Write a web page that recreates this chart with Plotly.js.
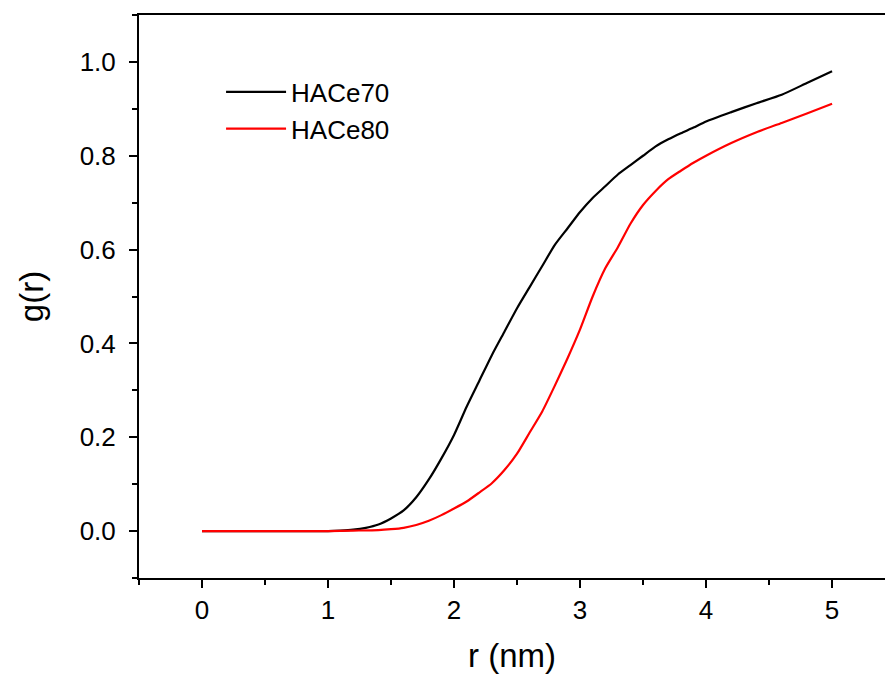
<!DOCTYPE html>
<html>
<head>
<meta charset="utf-8">
<script src="https://cdn.plot.ly/plotly-3.0.1.min.js"></script>
<style>html,body{margin:0;padding:0;background:#fff;}#chart{width:885px;height:675px;}</style>
</head>
<body>
<div id="chart"></div>
<script>
const r70 = [0, 0.5, 1.0, 1.1, 1.2, 1.3, 1.4, 1.5, 1.6, 1.7, 1.8, 1.9, 2.0, 2.1, 2.2, 2.3, 2.4, 2.5, 2.6, 2.7, 2.8, 2.9, 3.0, 3.1, 3.2, 3.3, 3.4, 3.5, 3.6, 3.7, 3.8, 3.9, 4.0, 4.2, 4.4, 4.6, 4.8, 5.0];
const g70 = [0, 0, 0, 0.001, 0.003, 0.007, 0.014, 0.027, 0.044, 0.072, 0.11, 0.155, 0.205, 0.265, 0.32, 0.375, 0.425, 0.475, 0.52, 0.565, 0.61, 0.645, 0.68, 0.71, 0.735, 0.76, 0.78, 0.80, 0.82, 0.835, 0.848, 0.86, 0.873, 0.893, 0.912, 0.93, 0.955, 0.98];
const r80 = [0, 0.5, 1.0, 1.2, 1.4, 1.5, 1.6, 1.7, 1.8, 1.9, 2.0, 2.1, 2.2, 2.3, 2.4, 2.5, 2.6, 2.7, 2.8, 2.9, 3.0, 3.1, 3.2, 3.3, 3.4, 3.5, 3.6, 3.7, 3.8, 3.9, 4.0, 4.2, 4.4, 4.6, 4.8, 5.0];
const g80 = [0, 0, 0, 0.001, 0.002, 0.004, 0.007, 0.013, 0.022, 0.034, 0.048, 0.063, 0.082, 0.102, 0.13, 0.165, 0.21, 0.255, 0.31, 0.368, 0.43, 0.5, 0.56, 0.605, 0.655, 0.695, 0.725, 0.75, 0.768, 0.785, 0.80, 0.827, 0.85, 0.87, 0.89, 0.911];
const names = ["HACe70", "HACe80"];
const colors = ["#000000", "#ff0000"];

const font = "Liberation Sans, Arial, sans-serif";
const traces = [
  {x: r70, y: g70, name: names[0], type: "scatter", mode: "lines", line: {color: colors[0], width: 2.2, shape: "spline", smoothing: 0.6}},
  {x: r80, y: g80, name: names[1], type: "scatter", mode: "lines", line: {color: colors[1], width: 2.2, shape: "spline", smoothing: 0.6}}
];
const layout = {
  width: 885, height: 675,
  margin: {l: 139, r: 0, t: 15, b: 97},
  paper_bgcolor: "#fff", plot_bgcolor: "#fff",
  font: {family: font, color: "#000", size: 26},
  showlegend: true,
  legend: {x: 0.11, y: 0.905, xanchor: "left", yanchor: "top", bgcolor: "rgba(0,0,0,0)",
           font: {family: font, size: 26, color: "#000"}, itemwidth: 60, tracegroupgap: 0},
  xaxis: {
    range: [-0.5, 5.42], showgrid: false, zeroline: false,
    showline: true, linecolor: "#000", linewidth: 2, mirror: true,
    ticks: "outside", ticklen: 8, tickwidth: 2, tickcolor: "#000",
    tickmode: "linear", tick0: 0, dtick: 1,
    tickfont: {family: font, size: 26},
    minor: {dtick: 0.5, tick0: 0, ticks: "outside", ticklen: 5, tickwidth: 2, tickcolor: "#000", showgrid: false},
    title: {text: "r (nm)", font: {family: font, size: 33}, standoff: 20}
  },
  yaxis: {
    range: [-0.1, 1.1], showgrid: false, zeroline: false,
    showline: true, linecolor: "#000", linewidth: 2, mirror: false,
    ticks: "outside", ticklen: 8, tickwidth: 2, tickcolor: "#000",
    tickmode: "linear", tick0: 0, dtick: 0.2, tickformat: ".1f",
    ticklabelstandoff: 8,
    tickfont: {family: font, size: 26},
    minor: {dtick: 0.1, tick0: 0, ticks: "outside", ticklen: 5, tickwidth: 2, tickcolor: "#000", showgrid: false},
    title: {text: "g(r)", font: {family: font, size: 33}, standoff: 26}
  }
};
Plotly.newPlot("chart", traces, layout, {displayModeBar: false, staticPlot: true});
</script>
</body>
</html>
